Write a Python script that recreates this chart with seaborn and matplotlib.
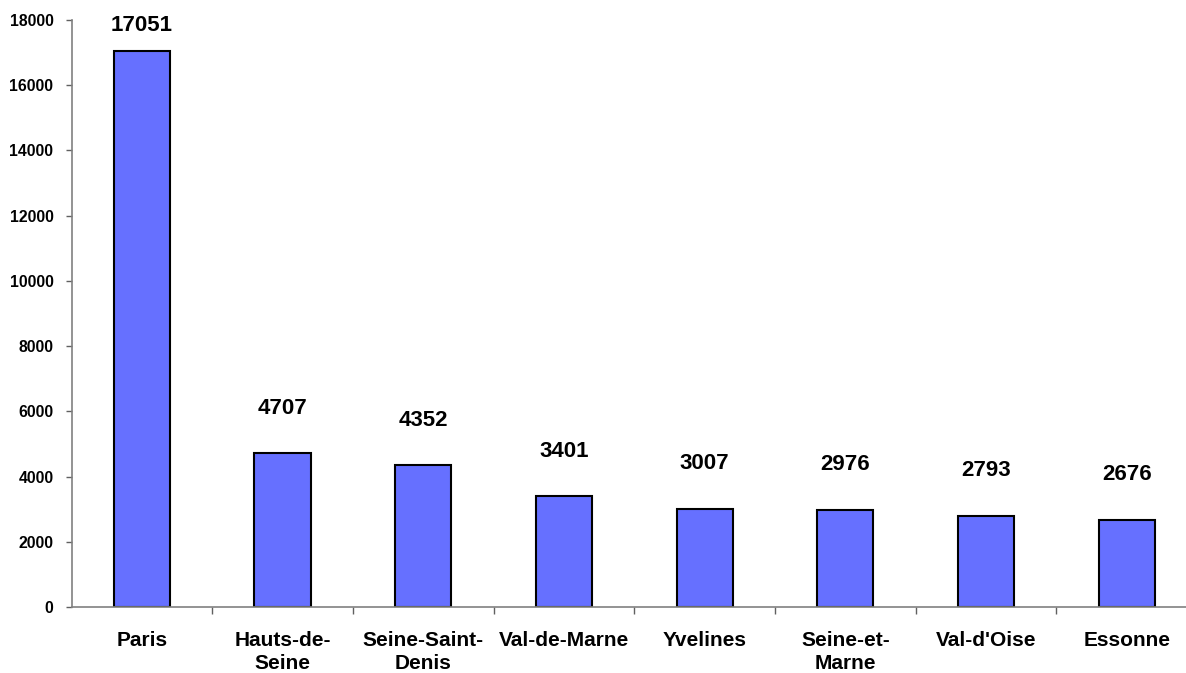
import matplotlib
matplotlib.use("Agg")
import matplotlib.pyplot as plt
import seaborn as sns
import pandas as pd
from matplotlib.ticker import FixedLocator

departements = ["Paris", "Hauts-de-\nSeine", "Seine-Saint-\nDenis", "Val-de-Marne",
                "Yvelines", "Seine-et-\nMarne", "Val-d'Oise", "Essonne"]
valeurs = [17051, 4707, 4352, 3401, 3007, 2976, 2793, 2676]
y_ticks = [0, 2000, 4000, 6000, 8000, 10000, 12000, 14000, 16000, 18000]

sns.set_style("white")
plt.rcParams["font.family"] = ["Liberation Sans", "DejaVu Sans"]
plt.rcParams["font.weight"] = "bold"
plt.rcParams["text.color"] = "black"
plt.rcParams["xtick.color"] = "black"
plt.rcParams["ytick.color"] = "black"

df = pd.DataFrame({"dep": departements, "val": valeurs})

fig = plt.figure(figsize=(11.86, 6.73), dpi=100)
ax = fig.add_axes([71.5 / 1186, 66 / 673, 1125.6 / 1186, 587 / 673])

sns.barplot(data=df, x="dep", y="val", ax=ax, color="#6670FF", saturation=1,
            width=0.4, edgecolor="black", linewidth=1.5)

ax.set_xlim(-0.5, len(departements) - 0.5)
ax.set_ylim(0, 18000)
ax.set_yticks(y_ticks)
ax.set_yticklabels([str(v) for v in y_ticks], fontsize=11.3, fontweight="bold")
ax.set_xlabel("")
ax.set_ylabel("")

for s in ["top", "right"]:
    ax.spines[s].set_visible(False)
for s in ["left", "bottom"]:
    ax.spines[s].set_color("#808080")
    ax.spines[s].set_linewidth(1.2)

ax.tick_params(axis="y", which="major", direction="out", length=4, width=1,
               color="#606060", labelcolor="black", pad=9, left=True)
ax.tick_params(axis="x", which="major", length=0, pad=17, labelsize=15,
               labelcolor="black")
for lbl in ax.get_xticklabels():
    lbl.set_fontweight("bold")
    lbl.set_linespacing(1.3)
ax.xaxis.set_minor_locator(FixedLocator([i + 0.5 for i in range(len(departements) - 1)]))
ax.tick_params(axis="x", which="minor", direction="out", length=5, width=1,
               color="#606060", bottom=True)

off = 1380
cap = 17820
for i, v in enumerate(valeurs):
    ax.text(i, min(v + off, cap), str(v), ha="center", va="center",
            fontsize=16, fontweight="bold", color="black")

fig.savefig("out.png", dpi=100)
